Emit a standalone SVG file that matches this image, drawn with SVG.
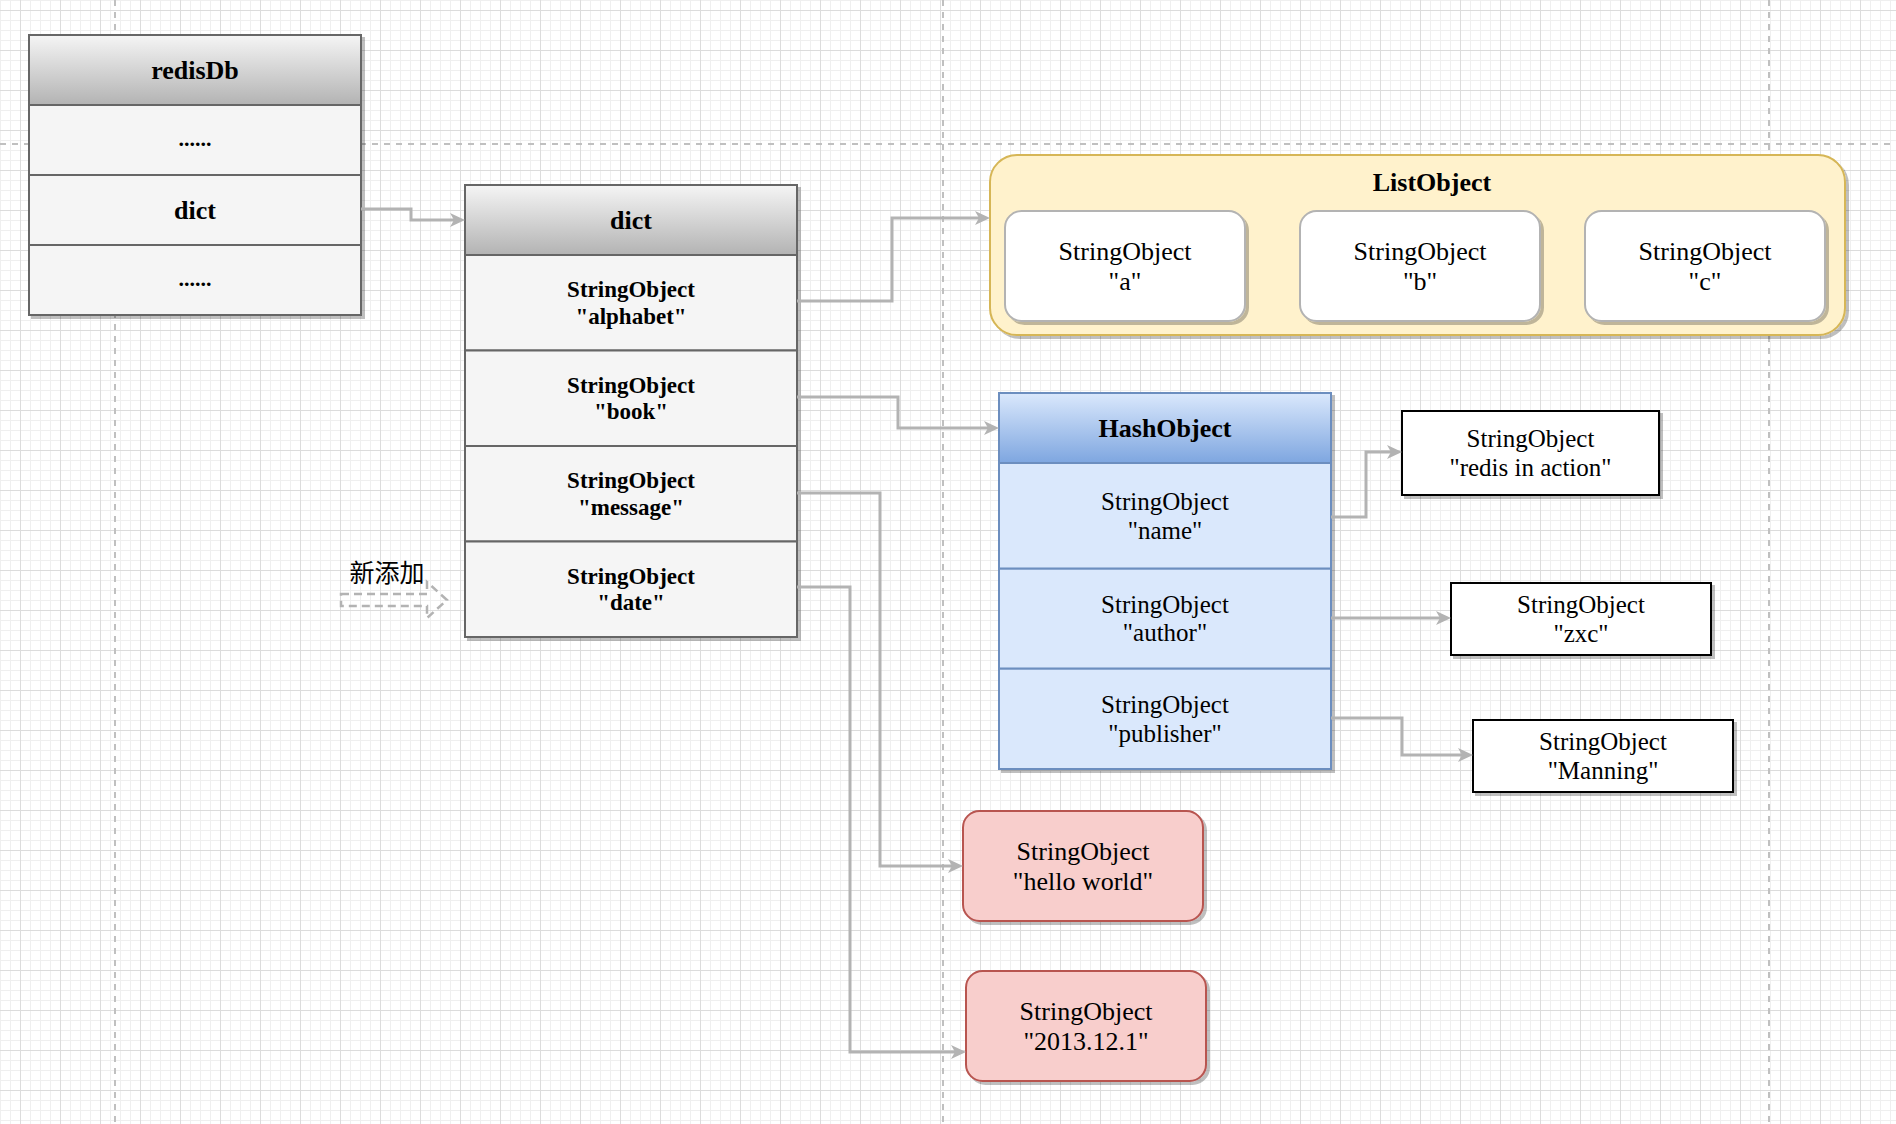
<svg xmlns="http://www.w3.org/2000/svg" width="1896" height="1124" viewBox="0 0 1896 1124">
<defs>
  <pattern id="grid" patternUnits="userSpaceOnUse" x="0" y="0" width="40" height="40">
    <rect x="0" y="0" width="1" height="40" fill="#efefef"/>
    <rect x="10" y="0" width="1" height="40" fill="#efefef"/>
    <rect x="30" y="0" width="1" height="40" fill="#efefef"/>
    <rect x="0" y="0" width="40" height="1" fill="#efefef"/>
    <rect x="0" y="20" width="40" height="1" fill="#efefef"/>
    <rect x="0" y="30" width="40" height="1" fill="#efefef"/>
    <rect x="20" y="0" width="1" height="40" fill="#dcdcdc"/>
    <rect x="0" y="10" width="40" height="1" fill="#dcdcdc"/>
  </pattern>
  <linearGradient id="gGrey" x1="0" y1="0" x2="0" y2="1">
    <stop offset="0" stop-color="#f5f5f5"/>
    <stop offset="1" stop-color="#b3b3b3"/>
  </linearGradient>
  <linearGradient id="gBlue" x1="0" y1="0" x2="0" y2="1">
    <stop offset="0" stop-color="#dae8fc"/>
    <stop offset="1" stop-color="#7ea6e0"/>
  </linearGradient>
  <filter id="sh" x="-5%" y="-5%" width="115%" height="115%">
    <feDropShadow dx="3" dy="3" stdDeviation="0" flood-color="#000000" flood-opacity="0.25"/>
  </filter>
  <marker id="arr" markerUnits="userSpaceOnUse" markerWidth="16" markerHeight="15" refX="11" refY="7" orient="auto" viewBox="0 0 16 15">
    <path d="M0,0 L15,7 L0,14 L4,7 Z" fill="#b3b3b3"/>
  </marker>
</defs>
<style>
  .guide { stroke:#c0c0c0; stroke-width:2; stroke-dasharray:6 6; fill:none; }
  .grey { fill:#f5f5f5; stroke:#666666; stroke-width:2; }
  .greyH { fill:url(#gGrey); stroke:#666666; stroke-width:2; }
  .blue { fill:#dae8fc; stroke:#6c8ebf; stroke-width:2; }
  .blueH { fill:url(#gBlue); stroke:#6c8ebf; stroke-width:2; }
  .list { fill:#fff2cc; stroke:#d6b656; stroke-width:2; }
  .item { fill:#ffffff; stroke:#b3b3b3; stroke-width:2; }
  .plain { fill:#ffffff; stroke:#000000; stroke-width:2; }
  .pink { fill:#f8cecc; stroke:#b85450; stroke-width:2; }
  .conn { fill:none; stroke:#b3b3b3; stroke-width:3; marker-end:url(#arr); }
  text { font-family:"Liberation Serif","Times New Roman",serif; fill:#000000; text-anchor:middle; }
  .h26 { font-size:26px; font-weight:bold; }
  .b23 { font-size:23px; font-weight:bold; }
  .b22 { font-size:22px; font-weight:bold; }
  .r26 { font-size:26px; }
  .r25 { font-size:25px; }
  .cjk { font-family:"Noto Sans CJK SC","Noto Sans",sans-serif; font-size:25px; }
</style>

<rect x="0" y="0" width="1896" height="1124" fill="#ffffff"/>
<rect x="0" y="0" width="1896" height="1124" fill="url(#grid)"/>

<g id="guides">
  <line class="guide" x1="115" y1="0" x2="115" y2="1124"/>
  <line class="guide" x1="943" y1="0" x2="943" y2="1124"/>
  <line class="guide" x1="1769" y1="0" x2="1769" y2="1124"/>
  <line class="guide" x1="0" y1="144" x2="1896" y2="144"/>
</g>

<g id="redisDb">
  <rect class="grey" x="29" y="35" width="332" height="280" filter="url(#sh)"/>
  <rect class="greyH" x="29" y="35" width="332" height="70"/>
  <rect class="grey" x="29" y="105" width="332" height="70"/>
  <rect class="grey" x="29" y="175" width="332" height="70"/>
  <rect class="grey" x="29" y="245" width="332" height="70"/>
  <text class="h26" x="195" y="79">redisDb</text>
  <text class="b22" x="195" y="146">......</text>
  <text class="h26" x="195" y="219">dict</text>
  <text class="b22" x="195" y="286">......</text>
</g>

<g id="dict">
  <rect class="grey" x="465" y="185" width="332" height="452" filter="url(#sh)"/>
  <rect class="greyH" x="465" y="185" width="332" height="70"/>
  <rect class="grey" x="465" y="255" width="332" height="95.5"/>
  <rect class="grey" x="465" y="350.5" width="332" height="95.5"/>
  <rect class="grey" x="465" y="446" width="332" height="95.5"/>
  <rect class="grey" x="465" y="541.5" width="332" height="95.5"/>
  <text class="h26" x="631" y="229">dict</text>
  <text class="b23" x="631" y="297.2">StringObject</text>
  <text class="b23" x="631" y="323.6">"alphabet"</text>
  <text class="b23" x="631" y="392.7">StringObject</text>
  <text class="b23" x="631" y="419.1">"book"</text>
  <text class="b23" x="631" y="488.2">StringObject</text>
  <text class="b23" x="631" y="514.6">"message"</text>
  <text class="b23" x="631" y="583.7">StringObject</text>
  <text class="b23" x="631" y="610.1">"date"</text>
</g>

<g id="listObject">
  <rect class="list" x="990" y="155" width="855" height="180" rx="27" ry="27" filter="url(#sh)"/>
  <text class="h26" x="1432" y="191">ListObject</text>
  <g id="list-a">
    <rect class="item" x="1005" y="211" width="240" height="110" rx="16.5" ry="16.5" filter="url(#sh)"/>
    <text class="r26" x="1125" y="259.6">StringObject</text>
    <text class="r26" x="1125" y="289.5">"a"</text>
  </g>
  <g id="list-b">
    <rect class="item" x="1300" y="211" width="240" height="110" rx="16.5" ry="16.5" filter="url(#sh)"/>
    <text class="r26" x="1420" y="259.6">StringObject</text>
    <text class="r26" x="1420" y="289.5">"b"</text>
  </g>
  <g id="list-c">
    <rect class="item" x="1585" y="211" width="240" height="110" rx="16.5" ry="16.5" filter="url(#sh)"/>
    <text class="r26" x="1705" y="259.6">StringObject</text>
    <text class="r26" x="1705" y="289.5">"c"</text>
  </g>
</g>

<g id="hashObject">
  <rect class="blue" x="999" y="393" width="332" height="376" filter="url(#sh)"/>
  <rect class="blueH" x="999" y="393" width="332" height="70"/>
  <rect class="blue" x="999" y="463" width="332" height="105.7"/>
  <rect class="blue" x="999" y="568.7" width="332" height="100"/>
  <rect class="blue" x="999" y="668.7" width="332" height="100.3"/>
  <text class="h26" x="1165" y="437">HashObject</text>
  <text class="r25" x="1165" y="509.7">StringObject</text>
  <text class="r25" x="1165" y="538.5">"name"</text>
  <text class="r25" x="1165" y="612.6">StringObject</text>
  <text class="r25" x="1165" y="641.3">"author"</text>
  <text class="r25" x="1165" y="712.7">StringObject</text>
  <text class="r25" x="1165" y="741.5">"publisher"</text>
</g>

<g id="str-redis-in-action">
  <rect class="plain" x="1402" y="411" width="257" height="84" filter="url(#sh)"/>
  <text class="r25" x="1530.5" y="446.9">StringObject</text>
  <text class="r25" x="1530.5" y="475.6">"redis in action"</text>
</g>

<g id="str-zxc">
  <rect class="plain" x="1451" y="583" width="260" height="72" filter="url(#sh)"/>
  <text class="r25" x="1581" y="612.9">StringObject</text>
  <text class="r25" x="1581" y="641.6">"zxc"</text>
</g>

<g id="str-manning">
  <rect class="plain" x="1473" y="720" width="260" height="72" filter="url(#sh)"/>
  <text class="r25" x="1603" y="749.9">StringObject</text>
  <text class="r25" x="1603" y="778.6">"Manning"</text>
</g>

<g id="str-hello-world">
  <rect class="pink" x="963" y="811" width="240" height="110" rx="16.5" ry="16.5" filter="url(#sh)"/>
  <text class="r26" x="1083" y="859.6">StringObject</text>
  <text class="r26" x="1083" y="889.5">"hello world"</text>
</g>

<g id="str-date-value">
  <rect class="pink" x="966" y="971" width="240" height="110" rx="16.5" ry="16.5" filter="url(#sh)"/>
  <text class="r26" x="1086" y="1019.6">StringObject</text>
  <text class="r26" x="1086" y="1049.5">"2013.12.1"</text>
</g>

<g id="connectors">
  <path class="conn" d="M361,209 H411 V220 H461"/>
  <path class="conn" d="M797,301 H892 V218 H986"/>
  <path class="conn" d="M797,397 H898 V428 H995"/>
  <path class="conn" d="M797,493 H880 V866 H959"/>
  <path class="conn" d="M797,587 H850 V1052 H962"/>
  <path class="conn" d="M1331,517 H1366 V452 H1398"/>
  <path class="conn" d="M1331,618 H1447"/>
  <path class="conn" d="M1331,718 H1402 V755 H1469"/>
</g>

<g id="new-added">
  <path d="M341,594 H427 V582 L447,600 L427,618 V606 H341 Z" fill="none" stroke="#b3b3b3" stroke-width="2.5" stroke-dasharray="8 5"/>
  <text class="cjk" x="387" y="582">新添加</text>
</g>
</svg>
